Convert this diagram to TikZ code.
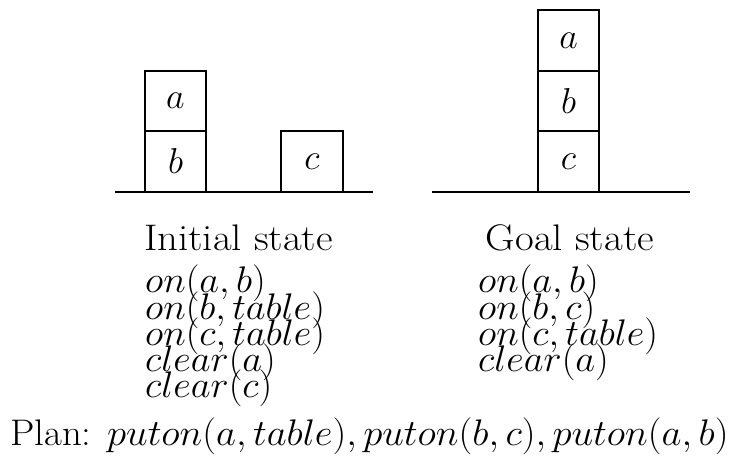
\RequirePackage{fix-cm}
\documentclass[tikz,border=0pt]{standalone}
\newcommand{\wide}[2]{\scalebox{#1}[1]{#2}}
\begin{document}
\begin{tikzpicture}[x=1pt,y=-1pt,
  block/.style={draw,line width=1.9pt,minimum width=61pt,minimum height=60.5pt,inner sep=0pt,font=\fontsize{36}{36}\selectfont},
  tableline/.style={line width=1.1pt},
  caption/.style={inner sep=0pt,anchor=base,font=\fontsize{37}{26}\selectfont},
  fact/.style={inner sep=0pt,anchor=base west,font=\fontsize{37}{26}\selectfont}]
\useasboundingbox (0,0) rectangle (734,468);

% initial state
\coordinate (tl1) at (115,192);
\coordinate (tr1) at (373,192);
\draw[tableline] (tl1) -- (tr1);
\node[block] (ia) at (175.5,101) {$a$};
\node[block] (ib) at (175.5,161.5) {$b$};
\node[block,minimum width=62pt] (ic) at (312,161.5) {$c$};

% goal state
\coordinate (tl2) at (432,192);
\coordinate (tr2) at (690,192);
\draw[tableline] (tl2) -- (tr2);
\node[block] (ga) at (568.5,40.5) {$a$};
\node[block] (gb) at (568.5,101) {$b$};
\node[block] (gc) at (568.5,161.5) {$c$};

% captions
\node[caption] (icap) at (238.5,251) {\wide{1.1}{Initial state}};
\node[caption] (gcap) at (570,251) {\wide{1.1}{Goal state}};

% facts
\node[fact] (i1) at (145,292.7) {\wide{1.04}{$on(a,b)$}};
\node[fact] (i2) at (145,319) {\wide{1.04}{$on(b,table)$}};
\node[fact] (i3) at (145,345.3) {\wide{1.04}{$on(c,table)$}};
\node[fact] (i4) at (145,371.6) {\wide{1.04}{$clear(a)$}};
\node[fact] (i5) at (145,397.9) {\wide{1.04}{$clear(c)$}};

\node[fact] (g1) at (478,292.7) {\wide{1.04}{$on(a,b)$}};
\node[fact] (g2) at (478,319) {\wide{1.04}{$on(b,c)$}};
\node[fact] (g3) at (478,345.3) {\wide{1.04}{$on(c,table)$}};
\node[fact] (g4) at (478,371.6) {\wide{1.04}{$clear(a)$}};

% plan
\node[fact] (plan) at (10,445) {\wide{1.048}{Plan: $puton(a,table),puton(b,c),puton(a,b)$}};
\end{tikzpicture}
\end{document}
